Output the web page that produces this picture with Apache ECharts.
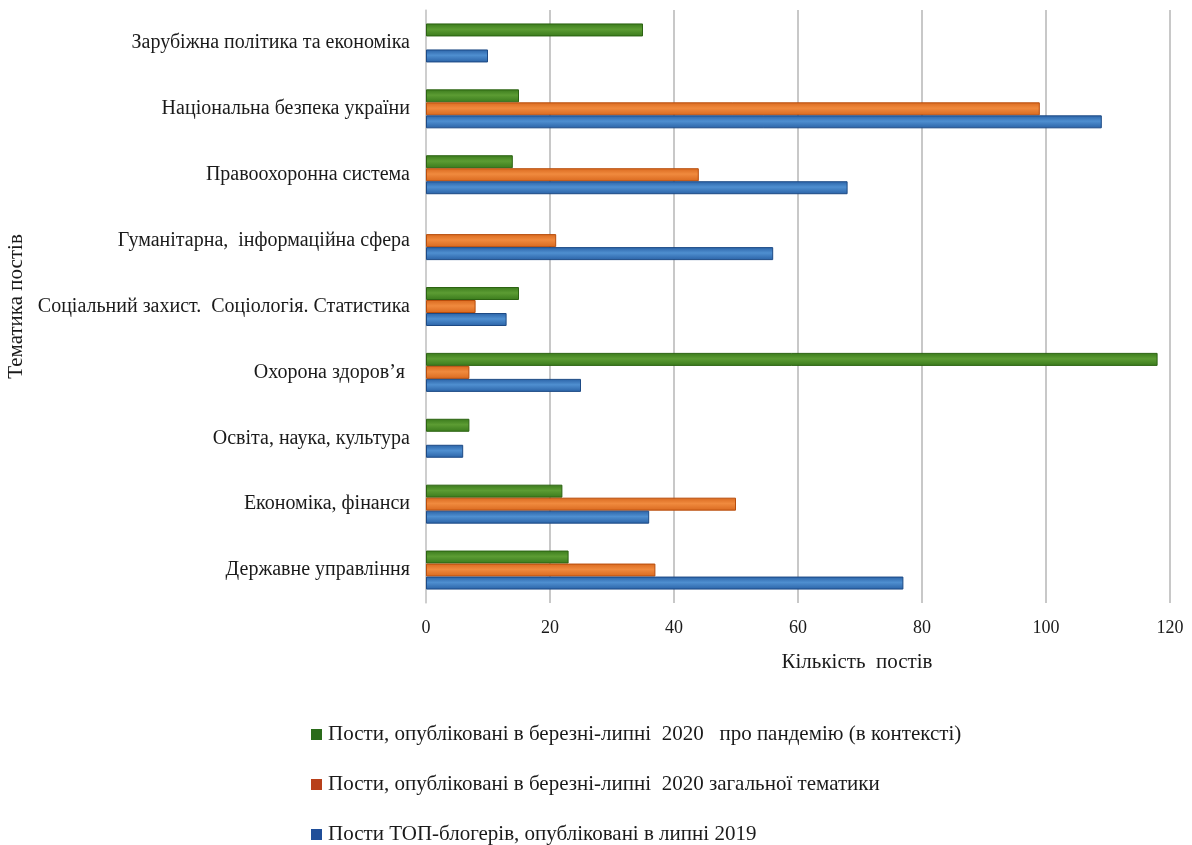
<!DOCTYPE html>
<html><head><meta charset="utf-8">
<script src="https://cdn.jsdelivr.net/npm/echarts@6/dist/echarts.min.js"></script>
<style>html,body{margin:0;padding:0;background:#fff}#c{width:1192px;height:845px}</style>
</head><body><div id="c"></div>
<script>
const categories = [
  'Державне управління',
  'Економіка, фінанси',
  'Освіта, наука, культура',
  'Охорона здоров’я ',
  'Соціальний захист.  Соціологія. Статистика',
  'Гуманітарна,  інформаційна сфера',
  'Правоохоронна система',
  'Національна безпека україни',
  'Зарубіжна політика та економіка'
];
const seriesNames = [
  'Пости, опубліковані в березні-липні  2020   про пандемію (в контексті)',
  'Пости, опубліковані в березні-липні  2020 загальної тематики',
  'Пости ТОП-блогерів, опубліковані в липні 2019'
];
const pandemic2020 = [23, 22, 7, 118, 15, 0, 14, 15, 35];
const general2020 = [37, 50, 0, 7, 8, 21, 44, 99, 0];
const blogers2019 = [77, 36, 6, 25, 13, 56, 68, 109, 10];
const xTicks = [0, 20, 40, 60, 80, 100, 120];

const FONT = '"Liberation Serif", "Times New Roman", serif';
function grad(dark, light) {
  return new echarts.graphic.LinearGradient(0, 0, 0, 1, [
    {offset: 0, color: dark}, {offset: 0.45, color: light}, {offset: 1, color: dark}
  ]);
}
const styles = [
  {fill: grad('#3a7a1c', '#5c9c33'), border: '#2c6312', legend: '#2a6b1a'},
  {fill: grad('#d9691f', '#f08a3e'), border: '#b84d0c', legend: '#b8401a'},
  {fill: grad('#2a62a6', '#4f8fd0'), border: '#1d4a85', legend: '#1f4e99'}
];
const dataSets = [pandemic2020, general2020, blogers2019];
const chart = echarts.init(document.getElementById('c'));
chart.setOption({
  animation: false,
  backgroundColor: '#fff',
  grid: {left: 426, right: 22, top: 10, bottom: 242, containLabel: false, outerBoundsMode: 'none'},
  legend: {
    orient: 'vertical', left: 306, top: 719, height: 200, itemGap: 29,
    icon: 'rect', itemWidth: 11, itemHeight: 11,
    textStyle: {fontFamily: FONT, fontSize: 21, color: '#1a1a1a', lineHeight: 18, padding: [0, 0, 0, 1]},
    data: [0, 1, 2].map(i => ({name: seriesNames[i], itemStyle: {color: styles[i].legend, borderWidth: 0}}))
  },
  xAxis: {
    type: 'value', min: 0, max: 120, interval: 20,
    name: 'Кількість  постів', nameLocation: 'middle', nameGap: 49,
    nameTextStyle: {fontFamily: FONT, fontSize: 21, color: '#1a1a1a', padding: [0, 0, 0, 118]},
    axisLine: {show: false}, axisTick: {show: false},
    axisLabel: {fontFamily: FONT, fontSize: 18, color: '#1a1a1a', margin: 16,
      formatter: v => xTicks.indexOf(v) >= 0 ? String(v) : ''},
    splitLine: {show: true, lineStyle: {color: '#c8c8c8', width: 2}}
  },
  yAxis: {
    type: 'category', data: categories,
    name: 'Тематика постів', nameLocation: 'middle', nameGap: 398, nameRotate: 90,
    nameTextStyle: {fontFamily: FONT, fontSize: 21, color: '#1a1a1a'},
    axisLine: {show: true, lineStyle: {color: '#d0d0d0', width: 1.5}},
    axisTick: {show: false},
    axisLabel: {fontFamily: FONT, fontSize: 20, color: '#1a1a1a', margin: 16}
  },
  series: [0, 1, 2].map(i => ({
    type: 'bar', name: seriesNames[i],
    data: dataSets[i].map(v => v === 0 ? null : v),
    barWidth: 13, barGap: '0%',
    itemStyle: {color: styles[i].fill, borderColor: styles[i].border, borderWidth: 1}
  }))
});
</script></body></html>
